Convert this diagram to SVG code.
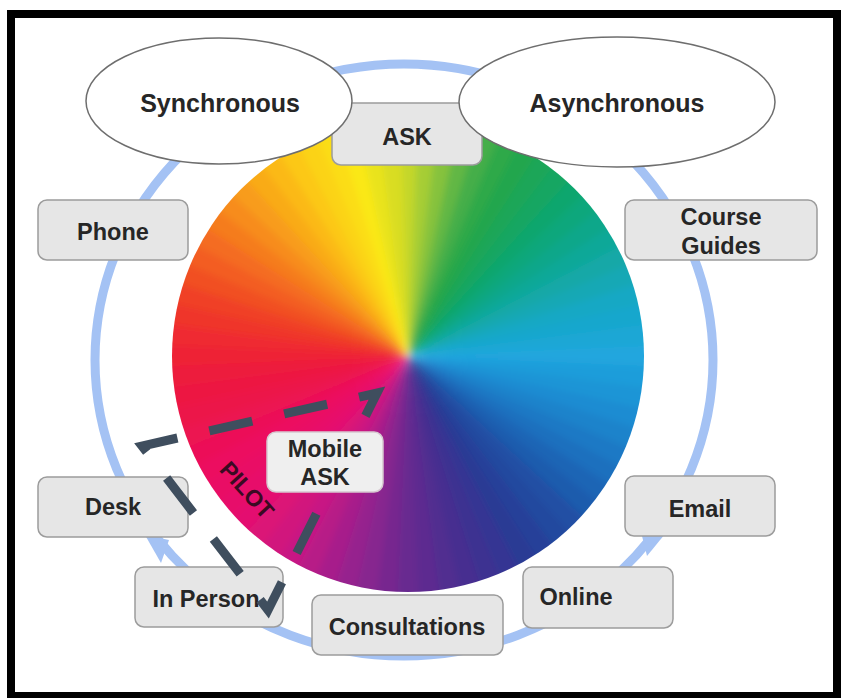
<svg xmlns="http://www.w3.org/2000/svg" width="844" height="698" viewBox="0 0 844 698">
<defs>
<style>
.bx{fill:#e6e6e6;stroke:#9c9c9c;stroke-width:1.5}
.el{fill:#fff;stroke:#6e6e6e;stroke-width:1.5}
.t{font-family:"Liberation Sans",Arial,sans-serif;font-weight:bold;font-size:23.5px;fill:#262626;text-anchor:middle}
.te{font-size:25px}
.ring{fill:none;stroke:#a4c2f4;stroke-width:9}
.arr{fill:#a4c2f4}
.pilot{fill:none;stroke:#3f4e5e;stroke-width:9;stroke-dasharray:44 32.73;stroke-dashoffset:25.6;stroke-linejoin:miter}
</style>
<polygon id="w" points="408,356 408,90 434,90"/>
<clipPath id="wc"><circle cx="408" cy="356" r="236"/></clipPath>
<filter id="bl" x="-10%" y="-10%" width="120%" height="120%"><feGaussianBlur stdDeviation="3.5"/></filter>
</defs>
<rect width="844" height="698" fill="#fff"/>
<g id="connectors">
<ellipse class="ring" cx="404" cy="360" rx="309" ry="296"/>
<polygon class="arr" points="145,535 169,540 161,563"/>
<polygon class="arr" points="641,532 665,534 647,556"/>
</g>
<g id="wheel" clip-path="url(#wc)"><g filter="url(#bl)">
<use href="#w" fill="#c4d72c" transform="rotate(-2.5 408 356)"/>
<use href="#w" fill="#a6cd34" transform="rotate(2.5 408 356)"/>
<use href="#w" fill="#86c23c" transform="rotate(7.5 408 356)"/>
<use href="#w" fill="#62b744" transform="rotate(12.5 408 356)"/>
<use href="#w" fill="#44ae48" transform="rotate(17.5 408 356)"/>
<use href="#w" fill="#2ea94a" transform="rotate(22.5 408 356)"/>
<use href="#w" fill="#22a64e" transform="rotate(27.5 408 356)"/>
<use href="#w" fill="#1aa658" transform="rotate(32.5 408 356)"/>
<use href="#w" fill="#16a662" transform="rotate(37.5 408 356)"/>
<use href="#w" fill="#0ea66e" transform="rotate(42.5 408 356)"/>
<use href="#w" fill="#0fa77c" transform="rotate(47.5 408 356)"/>
<use href="#w" fill="#0fa78a" transform="rotate(52.5 408 356)"/>
<use href="#w" fill="#10a898" transform="rotate(57.5 408 356)"/>
<use href="#w" fill="#12a8a7" transform="rotate(62.5 408 356)"/>
<use href="#w" fill="#14a8b5" transform="rotate(67.5 408 356)"/>
<use href="#w" fill="#16a8c4" transform="rotate(72.5 408 356)"/>
<use href="#w" fill="#19a7cd" transform="rotate(77.5 408 356)"/>
<use href="#w" fill="#1da7d5" transform="rotate(82.5 408 356)"/>
<use href="#w" fill="#20a6de" transform="rotate(87.5 408 356)"/>
<use href="#w" fill="#1f9dda" transform="rotate(92.5 408 356)"/>
<use href="#w" fill="#1d95d6" transform="rotate(97.5 408 356)"/>
<use href="#w" fill="#1c8cd2" transform="rotate(102.5 408 356)"/>
<use href="#w" fill="#1b83cb" transform="rotate(107.5 408 356)"/>
<use href="#w" fill="#1b79c5" transform="rotate(112.5 408 356)"/>
<use href="#w" fill="#1a70be" transform="rotate(117.5 408 356)"/>
<use href="#w" fill="#1c65b5" transform="rotate(122.5 408 356)"/>
<use href="#w" fill="#1e5bad" transform="rotate(127.5 408 356)"/>
<use href="#w" fill="#2050a4" transform="rotate(132.5 408 356)"/>
<use href="#w" fill="#24499f" transform="rotate(137.5 408 356)"/>
<use href="#w" fill="#284199" transform="rotate(142.5 408 356)"/>
<use href="#w" fill="#2c3a94" transform="rotate(147.5 408 356)"/>
<use href="#w" fill="#353693" transform="rotate(152.5 408 356)"/>
<use href="#w" fill="#3d3291" transform="rotate(157.5 408 356)"/>
<use href="#w" fill="#462e90" transform="rotate(162.5 408 356)"/>
<use href="#w" fill="#512d90" transform="rotate(167.5 408 356)"/>
<use href="#w" fill="#5d2b90" transform="rotate(172.5 408 356)"/>
<use href="#w" fill="#682a90" transform="rotate(177.5 408 356)"/>
<use href="#w" fill="#77278f" transform="rotate(182.5 408 356)"/>
<use href="#w" fill="#87258f" transform="rotate(187.5 408 356)"/>
<use href="#w" fill="#96228e" transform="rotate(192.5 408 356)"/>
<use href="#w" fill="#a71f8b" transform="rotate(197.5 408 356)"/>
<use href="#w" fill="#b71b87" transform="rotate(202.5 408 356)"/>
<use href="#w" fill="#c81884" transform="rotate(207.5 408 356)"/>
<use href="#w" fill="#d1157d" transform="rotate(212.5 408 356)"/>
<use href="#w" fill="#db1377" transform="rotate(217.5 408 356)"/>
<use href="#w" fill="#e41070" transform="rotate(222.5 408 356)"/>
<use href="#w" fill="#e70f6b" transform="rotate(227.5 408 356)"/>
<use href="#w" fill="#e90f65" transform="rotate(232.5 408 356)"/>
<use href="#w" fill="#ec0e60" transform="rotate(237.5 408 356)"/>
<use href="#w" fill="#ec1159" transform="rotate(242.5 408 356)"/>
<use href="#w" fill="#ec1351" transform="rotate(247.5 408 356)"/>
<use href="#w" fill="#ec164a" transform="rotate(252.5 408 356)"/>
<use href="#w" fill="#ed1943" transform="rotate(257.5 408 356)"/>
<use href="#w" fill="#ed1d3d" transform="rotate(262.5 408 356)"/>
<use href="#w" fill="#ee2036" transform="rotate(267.5 408 356)"/>
<use href="#w" fill="#ef2b31" transform="rotate(272.5 408 356)"/>
<use href="#w" fill="#ef352b" transform="rotate(277.5 408 356)"/>
<use href="#w" fill="#f04026" transform="rotate(282.5 408 356)"/>
<use href="#w" fill="#f14f24" transform="rotate(287.5 408 356)"/>
<use href="#w" fill="#f35d22" transform="rotate(292.5 408 356)"/>
<use href="#w" fill="#f46c20" transform="rotate(297.5 408 356)"/>
<use href="#w" fill="#f57c1e" transform="rotate(302.5 408 356)"/>
<use href="#w" fill="#f78c1c" transform="rotate(307.5 408 356)"/>
<use href="#w" fill="#f89c1a" transform="rotate(312.5 408 356)"/>
<use href="#w" fill="#f9ab18" transform="rotate(317.5 408 356)"/>
<use href="#w" fill="#fbb916" transform="rotate(322.5 408 356)"/>
<use href="#w" fill="#fcc814" transform="rotate(327.5 408 356)"/>
<use href="#w" fill="#fbd315" transform="rotate(332.5 408 356)"/>
<use href="#w" fill="#fbdd17" transform="rotate(337.5 408 356)"/>
<use href="#w" fill="#fae818" transform="rotate(342.5 408 356)"/>
<use href="#w" fill="#e9e31e" transform="rotate(347.5 408 356)"/>
<use href="#w" fill="#d9dd24" transform="rotate(352.5 408 356)"/>
</g></g>
<g id="ask"><rect class="bx" x="332" y="103" width="150" height="62" rx="9"/><text class="t" x="407" y="145">ASK</text></g>
<g id="synchronous"><ellipse class="el" cx="219" cy="101" rx="133" ry="63"/><text class="t te" x="220" y="112">Synchronous</text></g>
<g id="asynchronous"><ellipse class="el" cx="617" cy="102" rx="158" ry="65"/><text class="t te" x="617" y="112">Asynchronous</text></g>
<g id="phone"><rect class="bx" x="38" y="200" width="150" height="60" rx="9"/><text class="t" x="113" y="240">Phone</text></g>
<g id="course-guides"><rect class="bx" x="625" y="200" width="192" height="60" rx="9"/><text class="t" x="721" y="225">Course</text><text class="t" x="721" y="254">Guides</text></g>
<g id="desk"><rect class="bx" x="38" y="477" width="150" height="60" rx="9"/><text class="t" x="113" y="515">Desk</text></g>
<g id="email"><rect class="bx" x="625" y="476" width="150" height="60" rx="9"/><text class="t" x="700" y="517">Email</text></g>
<g id="in-person"><rect class="bx" x="135" y="567" width="148" height="60" rx="9"/><text class="t" x="206" y="607">In Person</text></g>
<g id="online"><rect class="bx" x="523" y="567" width="150" height="61" rx="9"/><text class="t" x="576" y="605">Online</text></g>
<g id="consultations"><rect class="bx" x="312" y="595" width="191" height="60" rx="9"/><text class="t" x="407" y="635">Consultations</text></g>
<g id="pilot-path"><path class="pilot" d="M377,393 L142,446 L268,610 Z"/></g>
<g id="mobile-ask"><rect x="267" y="432" width="116" height="60" rx="9" fill="#efefef" stroke="#d6c8d0" stroke-width="1.5"/><text class="t" x="325" y="457">Mobile</text><text class="t" x="325" y="485">ASK</text></g>
<g id="pilot-label"><text x="247" y="498" transform="rotate(48 247 490)" font-family="Liberation Sans, Arial, sans-serif" font-weight="bold" font-size="23" fill="#3a0a22" text-anchor="middle">PILOT</text></g>
<rect x="11" y="14" width="826" height="682" fill="none" stroke="#000" stroke-width="8"/>
</svg>
